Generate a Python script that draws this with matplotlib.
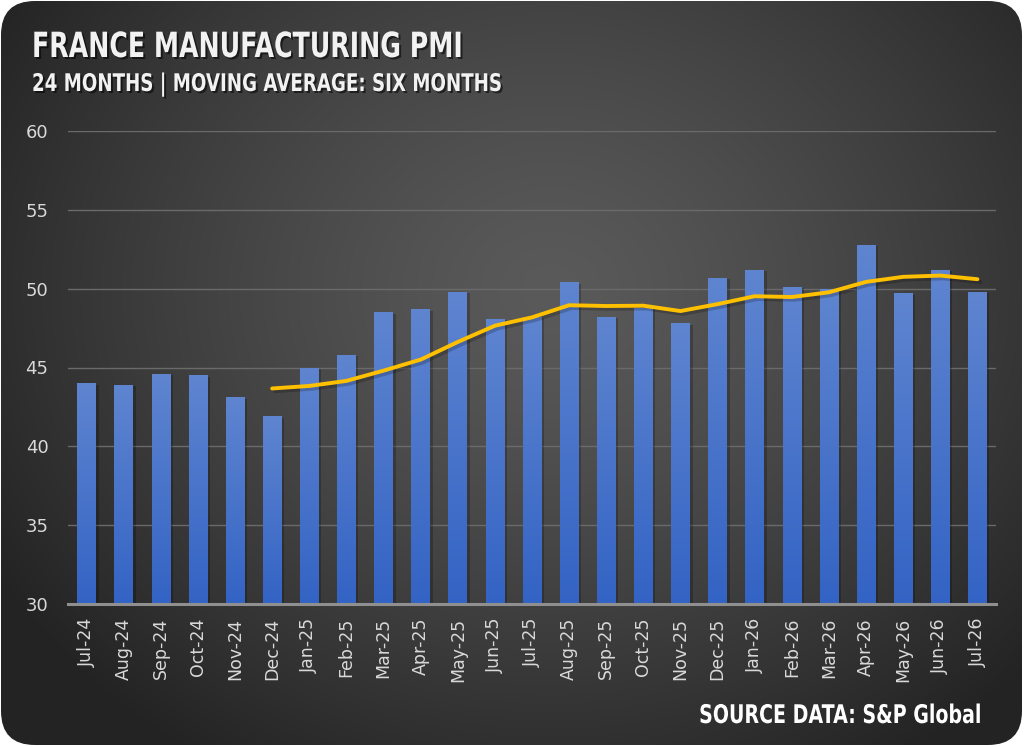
import numpy as np
import matplotlib
matplotlib.use('Agg')
import matplotlib.pyplot as plt
from matplotlib.patches import FancyBboxPatch
from matplotlib.transforms import Affine2D
import matplotlib.patheffects as pe

# ---- data ----
months = ['Jul-24', 'Aug-24', 'Sep-24', 'Oct-24', 'Nov-24', 'Dec-24',
          'Jan-25', 'Feb-25', 'Mar-25', 'Apr-25', 'May-25', 'Jun-25',
          'Jul-25', 'Aug-25', 'Sep-25', 'Oct-25', 'Nov-25', 'Dec-25',
          'Jan-26', 'Feb-26', 'Mar-26', 'Apr-26', 'May-26', 'Jun-26', 'Jul-26']
pmi = [44.0, 43.9, 44.6, 44.5, 43.1, 41.9,
       45.0, 45.8, 48.5, 48.7, 49.8, 48.1,
       48.2, 50.4, 48.2, 48.8, 47.8, 50.7,
       51.2, 50.1, 50.0, 52.8, 49.7, 51.2, 49.8]
ma6 = [np.nan, np.nan, np.nan, np.nan, np.nan, 43.67,
       43.83, 44.15, 44.80, 45.50, 46.62, 47.65,
       48.18, 48.95, 48.90, 48.92, 48.58, 49.02,
       49.52, 49.47, 49.77, 50.43, 50.75, 50.83, 50.60]
yticks = [30, 35, 40, 45, 50, 55, 60]

title = 'FRANCE MANUFACTURING PMI'
subtitle = '24 MONTHS | MOVING AVERAGE: SIX MONTHS'
source = 'SOURCE DATA: S&P Global'

W, H = 1024, 747


class Condensed(pe.AbstractPathEffect):
    """Draw text horizontally compressed about a display-x anchor (optionally with a drop shadow)."""

    def __init__(self, sx, x0, shadow=False):
        super().__init__()
        self.sx, self.x0, self.shadow = sx, x0, shadow

    def draw_path(self, renderer, gc, tpath, affine, rgbFace=None):
        a = affine + Affine2D().translate(-self.x0, 0).scale(self.sx, 1).translate(self.x0, 0)
        if self.shadow:
            gc0 = renderer.new_gc()
            gc0.copy_properties(gc)
            gc0.set_foreground('none')
            gc0.set_alpha(0.55)
            renderer.draw_path(gc0, tpath, a + Affine2D().translate(2, -2), (0, 0, 0))
            gc0.restore()
        renderer.draw_path(gc, tpath, a, rgbFace)


fig = plt.figure(figsize=(W / 100, H / 100), dpi=100, facecolor='white')

# ---- card background with radial gradient ----
bg = fig.add_axes([0, 0, 1, 1])
bg.set_xlim(0, W)
bg.set_ylim(H, 0)
bg.axis('off')
yy, xx = np.mgrid[0:H, 0:W]
r = np.sqrt(((xx - 550) / 650.0) ** 2 + ((yy - 290) / 560.0) ** 2)
t = np.clip(r, 0, 1) ** 1.3
c0 = np.array([0x5a, 0x5a, 0x5a]) / 255.0
c1 = np.array([0x23, 0x23, 0x23]) / 255.0
img = c0[None, None, :] * (1 - t[..., None]) + c1[None, None, :] * t[..., None]
card = FancyBboxPatch((1, 1), W - 3, H - 3,
                      boxstyle='round,pad=0,rounding_size=34',
                      facecolor='none', edgecolor='none', transform=bg.transData)
bg.add_patch(card)
im = bg.imshow(img, extent=(0, W, H, 0), zorder=0, interpolation='bilinear')
im.set_clip_path(card)

# ---- main axes ----
L, R, T, B = 68, 996, 131, 604
ax = fig.add_axes([L / W, 1 - B / H, (R - L) / W, (B - T) / H])
ax.patch.set_alpha(0)
x = np.arange(len(months))
ax.set_xlim(-0.5, len(months) - 0.5)
ax.set_ylim(30, 60)
ax.set_autoscale_on(False)

bars = ax.bar(x, np.array(pmi) - 30, bottom=30, width=0.5, color='#4a76cc',
              edgecolor='none', zorder=3,
              path_effects=[pe.SimplePatchShadow(offset=(2, -1), shadow_rgbFace='black', alpha=0.22),
                            pe.Normal()])
grad = np.linspace(0, 1, 256)[:, None]
top_c = np.array([0x5f, 0x85, 0xd0]) / 255.0
bot_c = np.array([0x33, 0x63, 0xc4]) / 255.0
gimg = top_c[None, None, :] * (1 - grad[..., None]) + bot_c[None, None, :] * grad[..., None]
for b in bars:
    x0, y0 = b.get_x(), b.get_y()
    w, h = b.get_width(), b.get_height()
    gi = ax.imshow(gimg, extent=(x0, x0 + w, y0, y0 + h), origin='upper',
                   aspect='auto', zorder=3.5, interpolation='bilinear')
    gi.set_clip_path(b)

ax.plot(x, ma6, color='#FFC000', lw=2.8, zorder=5, solid_capstyle='round',
        solid_joinstyle='round',
        path_effects=[pe.SimpleLineShadow(offset=(2, -2), shadow_color='black', alpha=0.2),
                      pe.Normal()])

ax.set_yticks(yticks)
ax.set_xticks(x)
ax.set_xticklabels(months, rotation=90)
ax.yaxis.grid(True, color='#6a6a6a', lw=1.0, zorder=1)
ax.set_axisbelow(True)
for s in ['top', 'right', 'left']:
    ax.spines[s].set_visible(False)
ax.spines['bottom'].set_color('#8f8f8f')
ax.spines['bottom'].set_linewidth(2.2)
ax.spines['bottom'].set_zorder(6)
ax.tick_params(axis='y', length=0, pad=14, labelsize=13, labelcolor='#d9d9d9')
ax.tick_params(axis='x', length=0, pad=10, labelsize=12.5, labelcolor='#d9d9d9')

# ---- texts (DejaVu Sans Bold, horizontally condensed) ----
fig.text(32 / W, 1 - 57 / H, title, fontsize=25, weight='bold',
         color='#f2f2f2', va='baseline', ha='left',
         path_effects=[Condensed(0.727, 32, shadow=True)])
fig.text(32 / W, 1 - 91 / H, subtitle, fontsize=17.5, weight='bold',
         color='#f2f2f2', va='baseline', ha='left',
         path_effects=[Condensed(0.75, 32, shadow=True)])
fig.text(982 / W, 1 - 723 / H, source, fontsize=18.5, weight='bold',
         color='white', va='baseline', ha='right',
         path_effects=[Condensed(0.74, 982)])

fig.savefig('out.png', dpi=100, facecolor='white')
